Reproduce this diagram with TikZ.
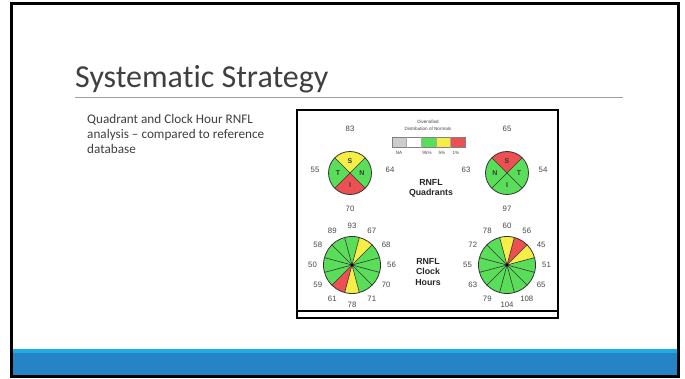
\documentclass[tikz,border=0pt]{standalone}
\usepackage{fontspec}
\usetikzlibrary{calc}
\setmainfont{Carlito}[Ligatures=NoCommon]
\newfontfamily\arialf{Liberation Sans}
\definecolor{txtgray}{HTML}{404040}
\definecolor{lblue}{HTML}{1CADE4}
\definecolor{dblue}{HTML}{2683C6}
\definecolor{qgreen}{RGB}{90,222,90}
\definecolor{qyellow}{RGB}{245,238,70}
\definecolor{qred}{RGB}{236,80,82}
\definecolor{qgray}{RGB}{205,205,205}
\definecolor{numgray}{RGB}{70,70,70}
\tikzset{
  num/.style={font=\arialf\fontsize{7.8}{9}\selectfont, text=numgray, inner sep=0pt},
  qlet/.style={font=\arialf\bfseries\fontsize{7}{8}\selectfont, text=numgray!80!black, inner sep=0pt},
  ttl/.style={font=\arialf\bfseries\fontsize{8.8}{10.3}\selectfont, text=black!85, align=center, inner sep=0pt},
  sect/.style={draw=black!80, line width=0.6pt},
  tiny/.style={font=\arialf\fontsize{4.6}{5.5}\selectfont, text=numgray, inner sep=0pt}
}
% sector: center, r, start, end, colour
\newcommand{\mysector}[5]{\fill[#5] (#1) -- ++(#3:#2) arc[start angle=#3, end angle=#4, radius=#2] -- cycle;}
\begin{document}
\begin{tikzpicture}[x=1pt,y=1pt]
\useasboundingbox (0,0) rectangle (685,-378);
\fill[white] (0,0) rectangle (685,-378);
% blue band
\fill[lblue] (12,-349) rectangle (678,-353);
\fill[dblue] (12,-353) rectangle (678,-375);
% frame
\draw[line width=3pt, black] (11.5,-3.5) rectangle (678,-376);
% title
\node[anchor=base west, inner sep=0pt, text=txtgray, font=\fontsize{32}{38}\selectfont] (title) at (75,-87) {Systematic Strategy};
\coordinate (rl) at (75,-97);
\coordinate (rr) at (623,-97);
\draw[gray!75, line width=0.9pt] (rl) -- (rr);
% body text
\node[anchor=north west, inner sep=0pt, text=txtgray, align=left, font=\fontsize{13.2}{15.2}\selectfont] (body) at (87,-114) {Quadrant and Clock Hour RNFL\\analysis -- compared to reference\\database};
% picture box
\draw[line width=2pt] (297,-110) rectangle (558,-318);
\coordinate (bl) at (297,-311);
\coordinate (br) at (558,-311);
\draw[line width=1.4pt] (bl) -- (br);

% ---- quadrant circles ----
\coordinate (q1) at (350,-173);
\coordinate (q2) at (507,-173);
\def\rq{21.5}
\mysector{q1}{\rq}{45}{135}{qyellow}
\mysector{q1}{\rq}{135}{225}{qgreen}
\mysector{q1}{\rq}{225}{315}{qred}
\mysector{q1}{\rq}{-45}{45}{qgreen}
\mysector{q2}{\rq}{45}{135}{qred}
\mysector{q2}{\rq}{135}{225}{qgreen}
\mysector{q2}{\rq}{225}{315}{qgreen}
\mysector{q2}{\rq}{-45}{45}{qgreen}
\foreach \c in {q1,q2}{
  \draw[sect] ($(\c)+(45:\rq)$) -- ($(\c)+(225:\rq)$);
  \draw[sect] ($(\c)+(135:\rq)$) -- ($(\c)+(315:\rq)$);
  \draw[black!80, line width=0.8pt] (\c) circle[radius=\rq];
}
\node[qlet] (q1s) at ($(q1)+(90:12)$) {S};
\node[qlet] (q1t) at ($(q1)+(180:12)$) {T};
\node[qlet] (q1n) at ($(q1)+(0:12)$) {N};
\node[qlet] (q1i) at ($(q1)+(270:12)$) {I};
\node[qlet] (q2s) at ($(q2)+(90:12)$) {S};
\node[qlet] (q2n) at ($(q2)+(180:12)$) {N};
\node[qlet] (q2t) at ($(q2)+(0:12)$) {T};
\node[qlet] (q2i) at ($(q2)+(270:12)$) {I};
\node[num] (n83) at (350,-129) {83};
\node[num] (n55) at (315,-170) {55};
\node[num] (n64) at (390,-170) {64};
\node[num] (n70) at (350,-209) {70};
\node[num] (n65) at (507,-129) {65};
\node[num] (n63) at (466,-170) {63};
\node[num] (n54) at (543,-170) {54};
\node[num] (n97) at (507,-209) {97};

% legend
\node[tiny] (lg1) at (428,-122) {Diversified};
\node[tiny] (lg2) at (428,-129) {Distribution of Normals};
\foreach \i/\col in {0/qgray,1/white,2/qgreen,3/qyellow,4/qred}{
  \fill[\col] ({392+\i*14.6},-137) rectangle ({392+(\i+1)*14.6},-147.5);
}
\draw[gray, line width=0.6pt] (392,-137) rectangle (465,-147.5);
\foreach \i in {1,2,3,4}{ \draw[gray!70, line width=0.4pt] ({392+\i*14.6},-137) -- ({392+\i*14.6},-147.5); }
\node[tiny] (lna) at (399,-153) {NA};
\node[tiny] (l95) at (427,-153) {95\%};
\node[tiny] (l5) at (442,-153) {5\%};
\node[tiny] (l1) at (456,-153) {1\%};

\node[ttl] (rq) at (431,-188) {RNFL\\Quadrants};
\node[ttl] (rc) at (428,-272) {RNFL\\Clock\\Hours};

% ---- clock circles ----
\coordinate (c1) at (352,-265);
\coordinate (c2) at (507,-265);
\def\rc{28.5}
\foreach \h/\col in {12/qgreen,1/qyellow,2/qgreen,3/qgreen,4/qgreen,5/qgreen,6/qyellow,7/qred,8/qgreen,9/qgreen,10/qgreen,11/qgreen}{
  \pgfmathsetmacro{\a}{90-30*\h-15}\pgfmathsetmacro{\b}{90-30*\h+15}
  \mysector{c1}{\rc}{\a}{\b}{\col}
}
\foreach \h/\col in {12/qyellow,1/qred,2/qyellow,3/qgreen,4/qgreen,5/qgreen,6/qgreen,7/qgreen,8/qgreen,9/qgreen,10/qgreen,11/qgreen}{
  \pgfmathsetmacro{\a}{90-30*\h-15}\pgfmathsetmacro{\b}{90-30*\h+15}
  \mysector{c2}{\rc}{\a}{\b}{\col}
}
\foreach \c in {c1,c2}{
  \foreach \k in {0,...,11}{
    \draw[sect] (\c) -- ($(\c)+({15+30*\k}:\rc)$);
  }
  \draw[black!80, line width=0.8pt] (\c) circle[radius=\rc];
  \fill[black] (\c) circle[radius=1.6];
}
\foreach \h/\v in {12/93,1/67,2/68,3/56,4/70,5/71,6/78,7/61,8/59,9/50,10/58,11/89}{
  \node[num] (a\h) at ($(c1)+({90-30*\h}:39.5)$) {\v};
}
\foreach \h/\v in {12/60,1/56,2/45,3/51,4/65,5/108,6/104,7/79,8/63,9/55,10/72,11/78}{
  \node[num] (b\h) at ($(c2)+({90-30*\h}:39.5)$) {\v};
}
\end{tikzpicture}
\end{document}
